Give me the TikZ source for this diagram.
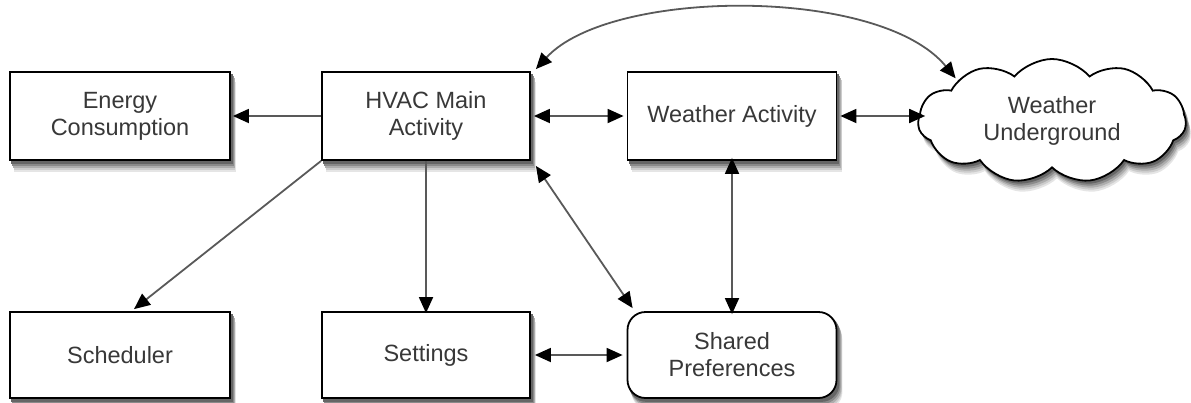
\documentclass[tikz,border=0pt]{standalone}
\usepackage{fontspec}
\setmainfont{Liberation Sans}
\usetikzlibrary{arrows.meta,shapes.symbols,backgrounds}
\tikzset{
  box/.style={draw=black, line width=1.8pt, fill=white, align=center, text=black!78,
    font=\fontsize{23.5}{27}\selectfont, inner sep=0pt},
  cloudshape/.style={cloud, cloud puffs=11, cloud puff arc=100, aspect=2.3, minimum width=268pt, minimum height=124pt},
  tip/.tip={Triangle[length=16pt,width=14pt,color=black]},
  conn/.style={line width=1.8pt, draw=black!65, -tip},
  dconn/.style={line width=1.8pt, draw=black!65, tip-tip}
}
\begin{document}
\begin{tikzpicture}[x=1pt,y=-1pt]
\useasboundingbox (0,0) rectangle (1191,402);
\node[box, minimum width=220pt, minimum height=88pt] (energy) at (120,116) {Energy\\Consumption};
\node[box, minimum width=208pt, minimum height=88pt] (hvac) at (426,116) {HVAC Main\\Activity};
\node[box, minimum width=209pt, minimum height=88pt] (weather) at (732,116) {Weather Activity};
\node[box, cloudshape] (wu) at (1052,121) {Weather\\Underground};
\node[box, minimum width=220pt, minimum height=86pt] (sched) at (120,355) {Scheduler};
\node[box, minimum width=208pt, minimum height=86pt] (settings) at (426,355) {Settings};
\node[box, rounded corners=18pt, minimum width=209pt, minimum height=86pt] (shared) at (732,355) {Shared\\Preferences};

\begin{scope}[on background layer]
\foreach \sx/\sy/\c in {5/11/10, 4.5/9/20, 4/7/32, 3/5/46, 2/3/60}{
  \foreach \n in {energy,hvac,weather,sched,settings}{
    \fill[black!\c] ([shift={(\sx,\sy)}]\n.north west) rectangle ([shift={(\sx,\sy)}]\n.south east);
  }
  \fill[black!\c, rounded corners=18pt] ([shift={(\sx,\sy)}]shared.north west) rectangle ([shift={(\sx,\sy)}]shared.south east);
  \node[cloudshape, fill=black!\c, inner sep=0pt] at ([shift={(\sx,\sy)}]wu.center) {};
}
\end{scope}

\draw[conn] (hvac.west) -- ([xshift=2pt]energy.east);
\draw[dconn] ([xshift=3pt]hvac.east) -- ([xshift=-3pt]weather.west);
\draw[dconn] ([xshift=3pt]weather.east) -- ([xshift=8pt]weather.east -| wu.west);
\draw[dconn] ([shift={(5,-2)}]hvac.north east) .. controls (610,-12) and (880,-14) .. ([shift={(-4,0)}]wu.north west);
\draw[conn] (hvac.south west) -- ([shift={(14,-2)}]sched.north);
\draw[conn] (hvac.south) -- ([yshift=-2pt]settings.north);
\draw[dconn] ([shift={(5,5)}]hvac.south east) -- ([shift={(6,-3)}]shared.north west);
\draw[dconn] ([yshift=3pt]weather.south) -- ([yshift=-3pt]shared.north);
\draw[dconn] ([xshift=4pt]settings.east) -- ([xshift=-4pt]shared.west);
\end{tikzpicture}
\end{document}
